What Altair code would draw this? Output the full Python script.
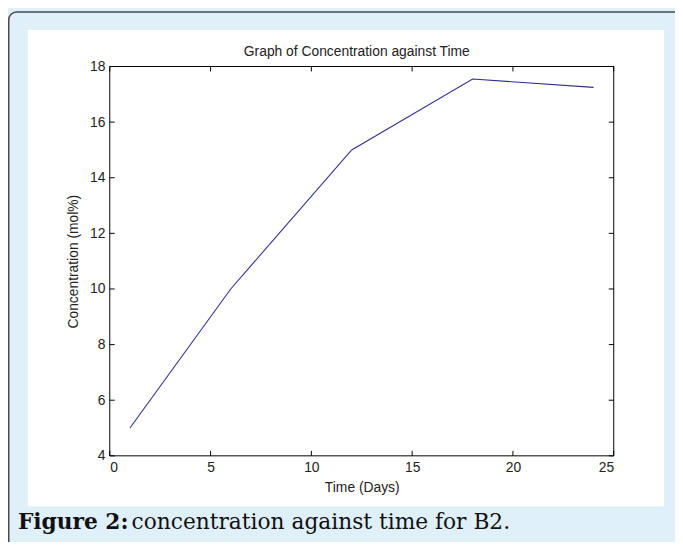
import altair as alt
import pandas as pd

# data
days = [1, 6, 12, 18, 24]
concentration = [5.0, 10.0, 15.0, 17.55, 17.25]
x_ticks = [0, 5, 10, 15, 20, 25]
y_ticks = [4, 6, 8, 10, 12, 14, 16, 18]
title_text = ["Graph of Concentration against Time"]
x_title = "Time (Days)"
y_title = "Concentration (mol%)"
caption_bold = ["Figure 2:"]
caption_rest = ["concentration against time for B2."]

W, H = 510, 394
FONT = "Liberation Sans"
TXT = "#222222"

df = pd.DataFrame({"day": days, "conc": concentration})
xt = pd.DataFrame({"t": x_ticks})
yt = pd.DataFrame({"t": y_ticks})

xs = alt.Scale(domain=[0, 25], nice=False, zero=False)
ys = alt.Scale(domain=[4, 18], nice=False, zero=False)

one = pd.DataFrame({"k": [0]})

panel = alt.Chart(one).mark_rect(fill="white").encode(
    x=alt.value(-83), x2=alt.value(561), y=alt.value(-37), y2=alt.value(445)
)
border = alt.Chart(one).mark_rect(
    fill=None, stroke="#4a4a4a", strokeWidth=1.5, cornerRadius=8
).encode(
    x=alt.value(-102.25), x2=alt.value(700), y=alt.value(-55.25), y2=alt.value(600)
)
box = alt.Chart(one).mark_rect(fill=None, stroke="black", strokeWidth=1).encode(
    x=alt.value(0), x2=alt.value(W), y=alt.value(0), y2=alt.value(H)
)

line = alt.Chart(df).mark_line(color="#30308c", strokeWidth=1.1).encode(
    x=alt.X("day:Q", scale=xs, title=x_title,
            axis=alt.Axis(values=x_ticks, domain=False, ticks=False, grid=False,
                          labelPadding=5, titlePadding=6, zindex=1)),
    y=alt.Y("conc:Q", scale=ys, title=y_title,
            axis=alt.Axis(values=y_ticks, domain=False, ticks=False, grid=False,
                          labelPadding=5, titlePadding=9, zindex=1)),
)

tick_bottom = alt.Chart(xt).mark_rule(color="black").encode(
    x=alt.X("t:Q", scale=xs), y=alt.value(H), y2=alt.value(H - 5))
tick_top = alt.Chart(xt).mark_rule(color="black").encode(
    x=alt.X("t:Q", scale=xs), y=alt.value(0), y2=alt.value(5))
tick_left = alt.Chart(yt).mark_rule(color="black").encode(
    y=alt.Y("t:Q", scale=ys), x=alt.value(0), x2=alt.value(5))
tick_right = alt.Chart(yt).mark_rule(color="black").encode(
    y=alt.Y("t:Q", scale=ys), x=alt.value(W - 5), x2=alt.value(W))

title = alt.Chart(pd.DataFrame({"c": title_text})).mark_text(
    font=FONT, fontSize=14, align="center", baseline="alphabetic", color=TXT
).encode(x=alt.value(250), y=alt.value(-11), text="c:N")

cap1 = alt.Chart(pd.DataFrame({"c": caption_bold})).mark_text(
    font="DejaVu Serif", fontSize=22, fontWeight="bold", align="left",
    baseline="alphabetic", color="#111111"
).encode(x=alt.value(-93), y=alt.value(468), text="c:N")
cap2 = alt.Chart(pd.DataFrame({"c": caption_rest})).mark_text(
    font="DejaVu Serif", fontSize=22, align="left",
    baseline="alphabetic", color="#111111"
).encode(x=alt.value(22), y=alt.value(468), text="c:N")

chart = alt.layer(
    panel, border, line, tick_bottom, tick_top, tick_left, tick_right, box,
    title, cap1, cap2
).properties(
    width=W, height=H,
    autosize=alt.AutoSizeParams(type="none"),
    padding={"left": 103, "top": 56, "right": 62, "bottom": 84},
    background="#dff0fa",
).configure_view(stroke=None).configure_axis(
    labelFont=FONT, labelFontSize=14, labelColor=TXT,
    titleFont=FONT, titleFontSize=14, titleColor=TXT, titleFontWeight="normal",
)

chart.save("out.html", embed_options={"renderer": "svg", "actions": False})
